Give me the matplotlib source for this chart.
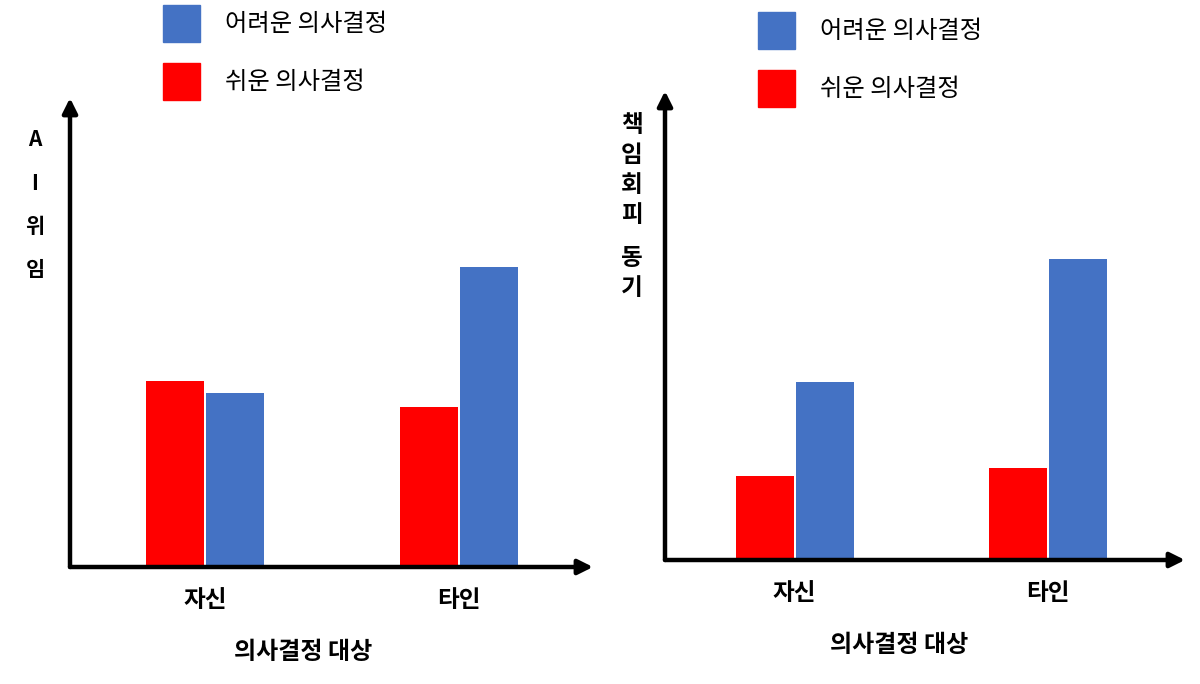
import matplotlib
matplotlib.use('Agg')
from matplotlib import pyplot as plt

plt.rcParams['font.family'] = ['Noto Sans CJK KR', 'DejaVu Sans']

# data (bar heights, arbitrary units)
groups = ['자신', '타인']
series = ['쉬운 의사결정', '어려운 의사결정']
delegation_easy = [186, 160]
delegation_hard = [174, 300]
avoidance_easy = [84, 92]
avoidance_hard = [178, 301]

xlabel = '의사결정 대상'
ylabel_left = 'AI위임'
ylabel_right = '책임회피 동기'

RED = '#FF0000'
BLUE = '#4472C4'
W, H = 1200, 684


def fx(x):
    return x / W


def fy(y):
    return 1 - y / H


def draw_panel(fig, left, right, top, base, c0, c1, easy, hard):
    ax = fig.add_axes([fx(left), fy(base), fx(right - left), (base - top) / H])
    unit = c1 - c0
    ax.set_xlim((left - c0) / unit, (right - c0) / unit)
    ax.set_ylim(0, base - top)
    bw = 58 / unit
    off = 30 / unit
    pos = range(len(groups))
    ax.bar([p - off for p in pos], easy, width=bw, color=RED, zorder=2)
    ax.bar([p + off for p in pos], hard, width=bw, color=BLUE, zorder=2)
    for s in ax.spines.values():
        s.set_visible(False)
    ax.set_xticks(list(pos))
    ax.set_xticklabels(groups, fontsize=17, fontweight='bold')
    ax.tick_params(axis='x', length=0, pad=15)
    ax.set_yticks([])
    arrow = dict(arrowstyle='-|>', lw=3.2, color='black', mutation_scale=22,
                 shrinkA=0, shrinkB=0)
    ax.annotate('', xy=(1, 0), xytext=(0, 0), xycoords='axes fraction',
                arrowprops=arrow, zorder=3)
    ax.annotate('', xy=(0, 1), xytext=(0, 0), xycoords='axes fraction',
                arrowprops=arrow, zorder=3)
    return ax


def draw_legend(fig, x, y):
    for i, (name, col) in enumerate([(series[1], BLUE), (series[0], RED)]):
        yy = y + i * 58
        fig.patches.append(plt.Rectangle((fx(x), fy(yy + 37)), fx(37), 37 / H,
                                         color=col, transform=fig.transFigure))
        fig.text(fx(x + 62), fy(yy + 19), name, fontsize=17.5, fontweight='medium',
                 va='center', ha='left')


fig = plt.figure(figsize=(12, 6.84), dpi=100)

draw_panel(fig, 70, 593, 98, 567, 205, 459, delegation_easy, delegation_hard)
draw_panel(fig, 665, 1185, 91, 560, 794.5, 1048, avoidance_easy, avoidance_hard)

draw_legend(fig, 163, 5)
draw_legend(fig, 758, 12)

# x axis titles (not centred on the axes in the original)
fig.text(fx(303), fy(652), xlabel, fontsize=17.3, fontweight='bold',
         ha='center', va='center')
fig.text(fx(899), fy(645), xlabel, fontsize=17.3, fontweight='bold',
         ha='center', va='center')

# stacked vertical axis labels
for i, ch in enumerate(ylabel_left):
    fig.text(fx(35), fy(140 + i * 43), ch, fontsize=15, fontweight='bold',
             ha='center', va='center')

yy = 125
for ch in ylabel_right:
    if ch == ' ':
        yy += 13
        continue
    fig.text(fx(632), fy(yy), ch, fontsize=17, fontweight='bold',
             ha='center', va='center')
    yy += 30

fig.savefig('out.png', dpi=100)
